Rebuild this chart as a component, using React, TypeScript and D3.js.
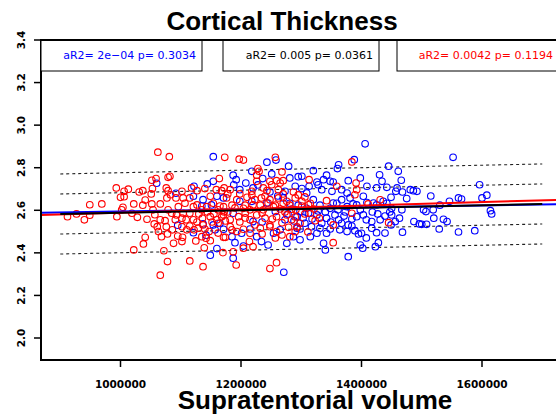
import React from "react";
import * as d3 from "d3";

// ---- data ----
const xTicks = [1000000, 1200000, 1400000, 1600000];
const yTicks = [2.0, 2.2, 2.4, 2.6, 2.8, 3.0, 3.2, 3.4];

// [supratentorial volume (thousands), cortical thickness]
const blueData: [number, number][] = [
  [1154,2.852],[1060,2.727],[1092,2.680],[1122,2.713],[1144,2.724],[1154,2.736],[1121,2.666],[1137,2.650],[1160,2.666],[1095,2.530],[1121,2.495],[1137,2.536],[1142,2.483],[1157,2.508],[1160,2.420],[1149,2.389],[1135,2.620],[1151,2.625],[1165,2.539],[1154,2.531],[1171,2.511],[1406,2.912],[1243,2.826],[1362,2.814],[1388,2.838],[1279,2.807],[1218,2.783],[1251,2.771],[1320,2.786],[1360,2.796],[1445,2.807],[1187,2.765],[1236,2.749],[1281,2.752],[1295,2.758],[1301,2.760],[1342,2.765],[1430,2.767],[1192,2.744],[1208,2.728],[1326,2.733],[1337,2.744],[1348,2.736],[1353,2.733],[1378,2.739],[1398,2.752],[1434,2.736],[1188,2.720],[1198,2.697],[1220,2.705],[1273,2.689],[1290,2.713],[1301,2.702],[1313,2.713],[1309,2.681],[1328,2.720],[1334,2.697],[1351,2.689],[1367,2.697],[1376,2.681],[1409,2.713],[1425,2.705],[1442,2.708],[1449,2.661],[1403,2.666],[1381,2.658],[1367,2.650],[1171,2.658],[1198,2.642],[1218,2.642],[1243,2.634],[1270,2.658],[1295,2.624],[1320,2.650],[1331,2.624],[1353,2.634],[1386,2.630],[1420,2.634],[1436,2.642],[1281,2.633],[1298,2.594],[1309,2.609],[1348,2.609],[1359,2.633],[1376,2.617],[1392,2.625],[1409,2.636],[1425,2.625],[1442,2.633],[1450,2.609],[1187,2.586],[1220,2.547],[1257,2.594],[1273,2.555],[1293,2.570],[1306,2.539],[1312,2.586],[1326,2.578],[1334,2.539],[1342,2.563],[1356,2.578],[1362,2.555],[1367,2.539],[1371,2.573],[1378,2.531],[1392,2.570],[1403,2.578],[1417,2.547],[1431,2.555],[1364,2.508],[1376,2.500],[1389,2.504],[1395,2.489],[1185,2.476],[1190,2.448],[1201,2.492],[1226,2.476],[1234,2.453],[1245,2.437],[1254,2.492],[1276,2.445],[1287,2.476],[1298,2.461],[1315,2.476],[1326,2.492],[1337,2.445],[1342,2.492],[1340,2.414],[1293,2.516],[1317,2.523],[1331,2.516],[1187,2.375],[1204,2.432],[1271,2.309],[1378,2.382],[1398,2.437],[1402,2.422],[1423,2.429],[1428,2.448],[1400,2.492],[1417,2.516],[1425,2.495],[1552,2.849],[1461,2.783],[1466,2.741],[1459,2.705],[1457,2.689],[1468,2.686],[1481,2.697],[1486,2.692],[1492,2.689],[1475,2.655],[1515,2.667],[1596,2.720],[1546,2.642],[1561,2.658],[1566,2.653],[1600,2.658],[1608,2.671],[1530,2.624],[1450,2.578],[1463,2.563],[1467,2.602],[1449,2.531],[1456,2.547],[1468,2.497],[1487,2.547],[1496,2.536],[1500,2.534],[1508,2.534],[1503,2.602],[1507,2.594],[1519,2.602],[1520,2.563],[1529,2.512],[1536,2.558],[1542,2.547],[1561,2.498],[1588,2.504],[1614,2.598],[1616,2.583],[1258,2.836],
  [1278,2.583],[1288,2.550],[1303,2.564],[1318,2.559],[1328,2.597],[1340,2.592],[1349,2.545],[1361,2.602],[1373,2.592],[1384,2.559],[1398,2.602],[1408,2.555],[1418,2.592],[1427,2.583],[1439,2.573],[1447,2.592],[1298,2.512],[1348,2.512],[1384,2.526],[1408,2.470],[1439,2.493],[1228,2.719],[1248,2.686],[1261,2.667],[1235,2.545],[1215,2.512],[1265,2.508]
];

const redData: [number, number][] = [
  [1062,2.873],[1081,2.852],[1173,2.849],[1052,2.741],[1059,2.749],[1079,2.755],[1082,2.760],[993,2.705],[1013,2.699],[1006,2.689],[1000,2.661],[1006,2.664],[1031,2.686],[1037,2.692],[1053,2.702],[1051,2.677],[1076,2.705],[1079,2.692],[1102,2.689],[1083,2.673],[1077,2.658],[1092,2.658],[1104,2.658],[1118,2.705],[1127,2.692],[1140,2.702],[1164,2.749],[1159,2.697],[1115,2.658],[1149,2.666],[1168,2.692],[949,2.626],[969,2.630],[1022,2.630],[1037,2.624],[1052,2.630],[1004,2.614],[912,2.570],[940,2.555],[949,2.577],[994,2.570],[1019,2.586],[1028,2.567],[1002,2.602],[1044,2.558],[1054,2.602],[1057,2.579],[1066,2.555],[1056,2.536],[1061,2.523],[1074,2.551],[1063,2.500],[1076,2.523],[1078,2.489],[1068,2.476],[1041,2.473],[1038,2.442],[1022,2.414],[1072,2.410],[1078,2.359],[1066,2.295],[1088,2.445],[1102,2.453],[1103,2.473],[1085,2.586],[1093,2.578],[1102,2.523],[1110,2.508],[1104,2.586],[1115,2.586],[1115,2.526],[1122,2.508],[1129,2.516],[1137,2.531],[1135,2.476],[1142,2.469],[1149,2.457],[1147,2.500],[1162,2.539],[1139,2.424],[1170,2.401],[1115,2.362],[1137,2.335],[1171,2.473],[1127,2.625],[1135,2.602],[1143,2.617],[1154,2.633],[1162,2.602],[1168,2.570],[1149,2.570],[1136,2.563],[1160,2.555],[1079,2.602],[1096,2.617],[1107,2.633],[1121,2.617],[1102,2.563],[1121,2.555],[1197,2.840],[1204,2.836],[1257,2.849],[1384,2.827],[1228,2.796],[1230,2.783],[1268,2.780],[1226,2.765],[1226,2.736],[1248,2.736],[1259,2.739],[1265,2.728],[1270,2.739],[1313,2.744],[1391,2.728],[1172,2.705],[1182,2.697],[1218,2.689],[1237,2.705],[1251,2.720],[1243,2.692],[1262,2.697],[1287,2.686],[1359,2.713],[1392,2.697],[1389,2.673],[1176,2.658],[1193,2.650],[1210,2.661],[1223,2.650],[1234,2.658],[1248,2.650],[1262,2.658],[1276,2.642],[1290,2.658],[1301,2.642],[1185,2.624],[1207,2.624],[1232,2.624],[1257,2.624],[1281,2.624],[1312,2.626],[1342,2.645],[1171,2.617],[1204,2.609],[1220,2.625],[1237,2.602],[1254,2.617],[1270,2.633],[1284,2.605],[1301,2.620],[1315,2.633],[1431,2.649],[1411,2.630],[1171,2.578],[1182,2.555],[1196,2.570],[1207,2.586],[1215,2.555],[1226,2.578],[1240,2.563],[1248,2.531],[1259,2.570],[1268,2.542],[1276,2.578],[1284,2.555],[1298,2.539],[1315,2.586],[1323,2.551],[1330,2.563],[1353,2.531],[1384,2.586],[1445,2.542],[1174,2.473],[1182,2.523],[1193,2.500],[1204,2.511],[1215,2.492],[1232,2.516],[1248,2.523],[1259,2.500],[1268,2.484],[1281,2.476],[1279,2.520],[1214,2.453],[1220,2.429],[1204,2.422],[1353,2.448],[1290,2.500],[1187,2.405],[1192,2.343],[1248,2.326],[1259,2.354],[927,2.583],
  [1130,2.583],[1144,2.592],[1155,2.583],[1165,2.620],[1172,2.592],[1127,2.545],[1152,2.545],[1140,2.512],[1162,2.493],[1174,2.550],[1178,2.677],[1198,2.677],[1218,2.672],[1240,2.667],[1270,2.677],[1295,2.672],[1306,2.663],[1190,2.611],[1215,2.602],[1245,2.634],[1265,2.606],[1291,2.602],[1178,2.592],[1198,2.545],[1223,2.531],[1235,2.587],[1252,2.559],[1273,2.592],[1290,2.569],[1306,2.583],[1321,2.606],[1207,2.564],[1185,2.508],[1235,2.489],[1257,2.470],[1293,2.522],[1311,2.498],[1041,2.648],[1066,2.630],[1091,2.555],[1109,2.555],[1086,2.508],[1095,2.479],[1125,2.456]
];

// regression fits: [intercept, slope per unit volume]
const blueFit = [2.5474, 4.68e-8];
const redFit = [2.5064, 8.25e-8];
const allFit = [2.5296, 5.888e-8];
const allFitRange = [900000, 1700000];
const residualSD = 0.094;
const bandMultipliers = [-2, -1, 1, 2];

const legendTexts = ["aR2= 2e\u221204 p= 0.3034", "aR2= 0.005 p= 0.0361", "aR2= 0.0042 p= 0.1194"];
const legendColors = ["#0000ff", "#000000", "#ff0000"];

export default function App() {
  const W = 556, H = 419;
  const left = 41, top = 40, bottom = 360, right = 620;
  const x = d3.scaleLinear().domain([1000000, 1600000]).range([120.5, 482]);
  const y = d3.scaleLinear().domain([2.0, 3.4]).range([338, 40]);
  const line = d3.line<[number, number]>().x((d) => x(d[0])).y((d) => y(d[1]));
  const x0 = x.invert(left), x1 = x.invert(right);
  const fitLine = (f: number[], a: number, b: number, off = 0) =>
    line([[a, f[0] + f[1] * a + off], [b, f[0] + f[1] * b + off]]) as string;

  const boxes = [
    { x0: 41, x1: 202, tx: 196 },
    { x0: 223, x1: 379, tx: 373 },
    { x0: 397, x1: 600, tx: 553 },
  ];
  const smallFont = "'DejaVu Sans', sans-serif";
  const bigFont = "'Liberation Sans', Arial, Helvetica, sans-serif";

  return (
    <div style={{ position: "absolute", left: 0, top: 0 }}>
      <svg width={W} height={H} viewBox={`0 0 ${W} ${H}`} style={{ display: "block", background: "#fff" }}>
        <rect x={0} y={0} width={W} height={H} fill="#fff" />
        <defs>
          <clipPath id="plotclip">
            <rect x={left} y={top} width={right - left} height={bottom - top} />
          </clipPath>
        </defs>
        <g clipPath="url(#plotclip)">
          {bandMultipliers.map((m) => (
            <path key={m} d={fitLine(allFit, allFitRange[0], allFitRange[1], m * residualSD)}
              stroke="#222" strokeWidth={1.1} strokeDasharray="3,3" fill="none" />
          ))}
          {blueData.map((d, i) => (
            <circle key={"b" + i} cx={x(d[0] * 1000)} cy={y(d[1])} r={3.3} fill="none" stroke="#0000ff" strokeWidth={1.1} />
          ))}
          {redData.map((d, i) => (
            <circle key={"r" + i} cx={x(d[0] * 1000)} cy={y(d[1])} r={3.3} fill="none" stroke="#ff0000" strokeWidth={1.1} />
          ))}
          <path d={fitLine(blueFit, x0, x1)} stroke="#0000ff" strokeWidth={2} fill="none" />
          <path d={fitLine(redFit, x0, x1)} stroke="#ff0000" strokeWidth={2} fill="none" />
          <path d={fitLine(allFit, allFitRange[0], allFitRange[1])} stroke="#000" strokeWidth={2} fill="none" />
        </g>
        <path d={`M${right},${top}H${left}V${bottom}H${right}`} stroke="#000" strokeWidth={2} fill="none" />
        {boxes.map((b, i) => (
          <g key={i}>
            <rect x={b.x0} y={top} width={b.x1 - b.x0} height={71 - top} fill="#fff" stroke="#000" strokeWidth={1} />
            <text x={b.tx} y={59} textAnchor="end" fontFamily={smallFont} fontSize={11} fill={legendColors[i]}>
              {legendTexts[i]}
            </text>
          </g>
        ))}
        <path d={`M${right},${top}H${left}`} stroke="#000" strokeWidth={2} fill="none" />
        {yTicks.map((t) => (
          <g key={t}>
            <line x1={34} x2={left} y1={y(t)} y2={y(t)} stroke="#000" strokeWidth={1.5} />
            <text transform={`translate(25,${y(t)}) rotate(-90)`} textAnchor="middle" fontFamily={smallFont}
              fontWeight="bold" fontSize={10.5} fill="#000">{t.toFixed(1)}</text>
          </g>
        ))}
        {xTicks.map((t) => (
          <g key={t}>
            <line x1={x(t)} x2={x(t)} y1={bottom} y2={367} stroke="#000" strokeWidth={1.5} />
            <text x={x(t)} y={388} textAnchor="middle" fontFamily={smallFont} fontWeight="bold" fontSize={10.5} fill="#000">
              {String(t)}
            </text>
          </g>
        ))}
        <text x={282} y={30} textAnchor="middle" fontFamily={bigFont} fontWeight="bold" fontSize={26} fill="#000">
          Cortical Thickness
        </text>
        <text x={315} y={409} textAnchor="middle" fontFamily={bigFont} fontWeight="bold" fontSize={26} fill="#000">
          Supratentorial volume
        </text>
      </svg>
    </div>
  );
}
